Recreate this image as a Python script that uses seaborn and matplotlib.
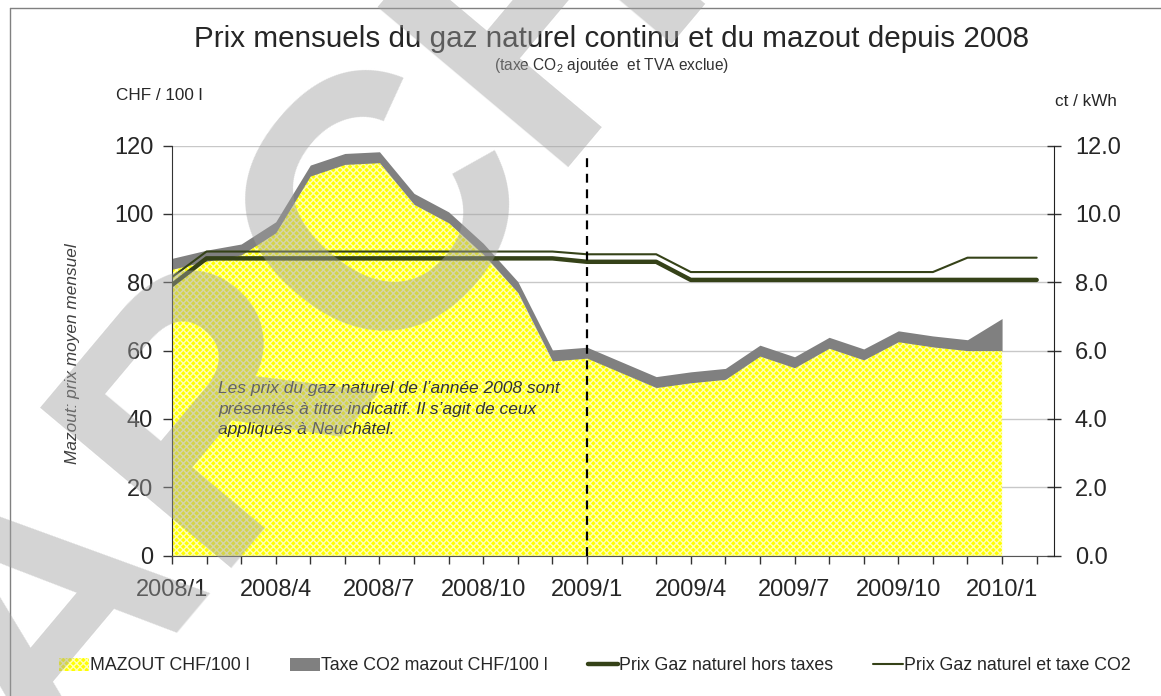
import matplotlib
matplotlib.use("Agg")
import numpy as np
import pandas as pd
import seaborn as sns
import matplotlib.pyplot as plt
from matplotlib.patches import Patch
from matplotlib.lines import Line2D

# monthly categories (lines run one month further than the areas)
months = ['2008/1', '2008/2', '2008/3', '2008/4', '2008/5', '2008/6', '2008/7', '2008/8', '2008/9',
          '2008/10', '2008/11', '2008/12', '2009/1', '2009/2', '2009/3', '2009/4', '2009/5', '2009/6',
          '2009/7', '2009/8', '2009/9', '2009/10', '2009/11', '2009/12', '2010/1', '2010/2']
tick_labels = ['2008/1', '2008/4', '2008/7', '2008/10', '2009/1', '2009/4', '2009/7', '2009/10', '2010/1']

# CHF / 100 l
mazout = [83.8, 86.2, 88.0, 94.5, 111.1, 114.5, 115.0, 102.8, 97.4, 88.2, 77.0, 57.0, 57.8,
          53.5, 49.2, 50.6, 51.6, 58.4, 55.0, 60.7, 57.3, 62.6, 61.1, 60.0, 60.0]
taxe_co2 = [3.2] * 24 + [9.4]

# ct / kWh
gaz_hors_taxes = [7.92] + [8.70] * 11 + [8.60] * 3 + [8.07] * 11
gaz_taxe_co2 = [8.15] + [8.90] * 11 + [8.82] * 3 + [8.30] * 8 + [8.72] * 3

sns.set_style("white")
plt.rcParams['font.family'] = ['Liberation Sans', 'DejaVu Sans']
plt.rcParams['mathtext.fontset'] = 'custom'
plt.rcParams['mathtext.rm'] = 'Liberation Sans'
plt.rcParams['hatch.linewidth'] = 1.0

df_area = pd.DataFrame({'x': np.arange(len(mazout)), 'mazout': mazout, 'taxe': taxe_co2})
df_area['total'] = df_area['mazout'] + df_area['taxe']
df_gaz = pd.DataFrame({'x': np.arange(len(months)), 'ht': gaz_hors_taxes, 'co2': gaz_taxe_co2})

olive = '#354218'
fig = plt.figure(figsize=(11.61, 6.96), dpi=100)
ax = fig.add_axes([0.1481, 0.2016, 0.7597, 0.5892])

ax.yaxis.grid(True, color='#c8c8c8', linewidth=1)
ax.set_axisbelow(True)
ax.fill_between(df_area['x'], 0, df_area['mazout'], facecolor='#ffff00', edgecolor='#ffffb4',
                hatch='xxxxx', linewidth=0, zorder=2)
ax.fill_between(df_area['x'], df_area['mazout'], df_area['total'], facecolor='#808080',
                linewidth=0, zorder=2)
ax.set_xlim(0, 25.5)
ax.set_ylim(0, 120)
ax.set_yticks(range(0, 121, 20))
ax.set_xticks(range(0, 26))
ax.set_xticklabels([m if m in tick_labels else '' for m in months])
ax.tick_params(axis='y', labelsize=17, direction='out', length=6.5, width=1, color='#333333', pad=7, left=True)
ax.tick_params(axis='x', labelsize=17, direction='out', length=6, width=1, color='#333333', pad=11, bottom=True)
for s in ['top', 'right']:
    ax.spines[s].set_visible(False)
ax.spines['left'].set_color('#333333')
ax.spines['bottom'].set_color('#555555')
ax.set_ylabel('Mazout: prix moyen mensuel', fontsize=12.4, style='italic', color='#404040')
ax.yaxis.set_label_coords(-0.104, 0.492)

ax2 = ax.twinx()
sns.lineplot(data=df_gaz, x='x', y='ht', ax=ax2, color=olive, linewidth=3.2, legend=False)
sns.lineplot(data=df_gaz, x='x', y='co2', ax=ax2, color=olive, linewidth=1.5, legend=False)
ax2.axvline(12, ymin=0, ymax=117.7 / 120, color='black', linestyle=(0, (4, 3)), linewidth=1.6, zorder=5)
ax2.set_ylim(0, 12)
ax2.set_yticks(np.arange(0, 12.1, 2))
ax2.set_yticklabels([f'{v:.1f}' for v in np.arange(0, 12.1, 2)])
ax2.set_ylabel('')
ax2.set_xlabel('')
ax.set_xlabel('')
ax2.tick_params(axis='y', labelsize=17, direction='inout', length=10, width=1, color='#333333', pad=10, right=True)
for s in ['top', 'left', 'bottom']:
    ax2.spines[s].set_visible(False)
ax2.spines['right'].set_color('#222222')

ax.text(0.0522, 0.425, "Les prix du gaz naturel de l\u2019ann\u00e9e 2008 sont\n"
        "pr\u00e9sent\u00e9s \u00e0 titre indicatif. Il s\u2019agit de ceux\n"
        "appliqu\u00e9s \u00e0 Neuch\u00e2tel.", transform=ax.transAxes, fontsize=12.5, style='italic',
        color='#333333', va='top', ha='left', linespacing=1.45, zorder=6)

fig.text(0.527, 1 - 47 / 696, 'Prix mensuels du gaz naturel continu et du mazout depuis 2008',
         ha='center', va='baseline', fontsize=21.3)
fig.text(0.527, 1 - 70 / 696, '(taxe CO$_2$ ajout\u00e9e  et TVA exclue)', ha='center', va='baseline',
         fontsize=11.2, color='#333333')
fig.text(116 / 1161, 1 - 96 / 696, 'CHF / 100 l', ha='left', va='center', fontsize=12.3)
fig.text(1055 / 1161, 1 - 102 / 696, 'ct / kWh', ha='left', va='center', fontsize=12.3)

handles = [Patch(facecolor='#ffff00', edgecolor='#ffffb4', hatch='xxxxx', linewidth=0),
           Patch(facecolor='#808080', linewidth=0),
           Line2D([], [], color=olive, linewidth=3.2),
           Line2D([], [], color=olive, linewidth=1.5)]
labels = ['MAZOUT CHF/100 l', 'Taxe CO2 mazout CHF/100 l', 'Prix Gaz naturel hors taxes',
          'Prix Gaz naturel et taxe CO2']
fig.legend(handles, labels, ncol=4, loc='center', bbox_to_anchor=(595 / 1161, 1 - 666 / 696),
           frameon=False, fontsize=12.8, handlelength=1.7, handleheight=0.7, handletextpad=0.06,
           columnspacing=2.25, borderpad=0)

# outer frame
fig.add_artist(Line2D([10 / 1161, 10 / 1161], [0, 1 - 8 / 696], transform=fig.transFigure,
                      color='#808080', linewidth=1))
fig.add_artist(Line2D([10 / 1161, 1], [1 - 8 / 696, 1 - 8 / 696], transform=fig.transFigure,
                      color='#808080', linewidth=1))

# watermark
fig.text(46 / 1161, 1 - 779 / 696, 'ARCHIV', rotation=50, rotation_mode='anchor', ha='left',
         va='baseline', fontsize=261, fontweight='bold', color='#a0a0a0', alpha=0.45, zorder=20)

fig.savefig('out.png', dpi=100)
